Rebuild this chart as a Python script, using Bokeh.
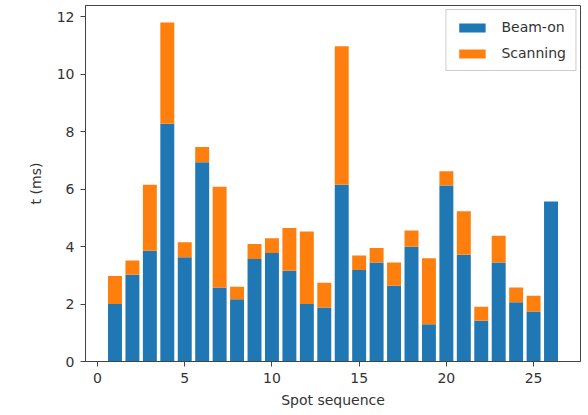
from bokeh.plotting import figure
from bokeh.models import ColumnDataSource, Range1d, FixedTicker, Legend, LegendItem
from bokeh.embed import file_html
from bokeh.resources import INLINE

spots = list(range(1, 27))
beam_on = [2.0, 3.02, 3.86, 8.28, 3.63, 6.94, 2.58, 2.17, 3.57, 3.78, 3.16,
           2.0, 1.88, 6.16, 3.19, 3.45, 2.64, 4.0, 1.3, 6.13, 3.72, 1.42,
           3.45, 2.06, 1.74, 5.57]
total = [2.98, 3.52, 6.16, 11.81, 4.15, 7.47, 6.09, 2.6, 4.09, 4.29, 4.65,
         4.53, 2.74, 10.98, 3.69, 3.95, 3.45, 4.56, 3.6, 6.63, 5.23, 1.91,
         4.38, 2.58, 2.29, 5.57]
scanning = [round(t - b, 3) for t, b in zip(total, beam_on)]

src = ColumnDataSource(dict(x=spots, beam_on=beam_on, scanning=scanning))

p = figure(width=588, height=415, output_backend="svg", toolbar_location=None,
           x_range=Range1d(-0.69, 27.69), y_range=Range1d(0, 12.4))
p.min_border_left = 85
p.min_border_right = 8
p.min_border_top = 5
p.min_border_bottom = 54

r = p.vbar_stack(["beam_on", "scanning"], x="x", width=0.8, source=src,
                 color=["#1f77b4", "#ff7f0e"], line_color=None)

legend = Legend(items=[LegendItem(label="Beam-on", renderers=[r[0]]),
                       LegendItem(label="Scanning", renderers=[r[1]])],
                location="top_right")
legend.label_text_font = "DejaVu Sans"
legend.label_text_font_size = "14px"
legend.label_text_color = "#333333"
legend.border_line_color = "#cccccc"
legend.border_line_alpha = 1.0
legend.glyph_width = 33
legend.glyph_height = 11
legend.label_standoff = 13
legend.spacing = 10
legend.padding = 9
legend.margin = 4
p.add_layout(legend)

p.xgrid.visible = False
p.ygrid.visible = False
p.outline_line_color = "#444444"
p.outline_line_width = 1

p.xaxis.ticker = FixedTicker(ticks=[0, 5, 10, 15, 20, 25])
p.yaxis.ticker = FixedTicker(ticks=[0, 2, 4, 6, 8, 10, 12])
for ax in (p.xaxis[0], p.yaxis[0]):
    ax.major_tick_out = 5
    ax.major_tick_in = 0
    ax.minor_tick_out = 0
    ax.minor_tick_in = 0
    ax.major_label_text_font = "DejaVu Sans"
    ax.major_label_text_font_size = "14px"
    ax.major_label_text_color = "#333333"
    ax.axis_label_text_font = "DejaVu Sans"
    ax.axis_label_text_font_size = "14px"
    ax.axis_label_text_font_style = "normal"
    ax.axis_label_text_color = "#333333"
    ax.axis_line_color = "#444444"
    ax.major_tick_line_color = "#444444"
p.xaxis.axis_label = "Spot sequence"
p.yaxis.axis_label = "t (ms)"
p.xaxis.major_label_standoff = 6
p.xaxis.axis_label_standoff = 6
p.yaxis.major_label_standoff = 6
p.yaxis.axis_label_standoff = 10

open("out.html", "w").write(file_html(p, INLINE))
